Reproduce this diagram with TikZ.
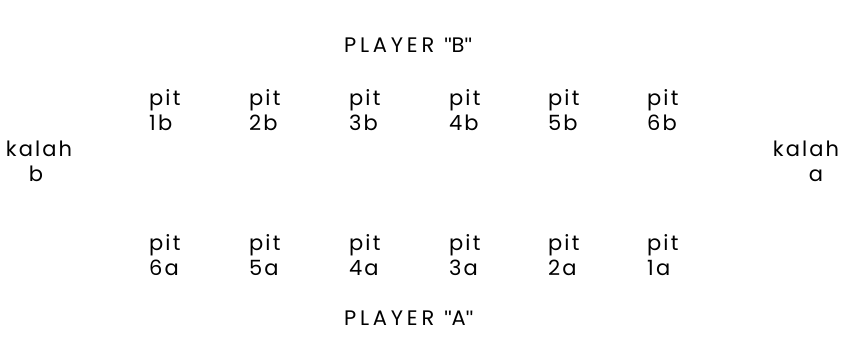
\documentclass[tikz,border=0pt]{standalone}
\usepackage{fontspec}
\setmainfont{Poppins}[LetterSpace=10]
\newfontfamily\qf{Liberation Sans}
\newfontfamily\capsf{Poppins}[LetterSpace=18]
\newcommand{\sq}{{\qf\char34}}
\begin{document}
\begin{tikzpicture}[x=1pt,y=1pt,
  lbl/.style={font=\fontsize{21}{25}\selectfont, inner sep=0pt},
  pitlbl/.style={lbl, align=left, anchor=west},
  kal/.style={lbl, align=center},
  plyr/.style={lbl, font=\capsf\fontsize{21}{25}\selectfont, anchor=west}]
\useasboundingbox (0,0) rectangle (841,-364);
\node[plyr] (pb) at (344,-45) {PLAYER\hspace{10pt}\sq B\sq};
\node[plyr] (pa) at (344,-318) {PLAYER\hspace{10pt}\sq A\sq};
\node[pitlbl] (p1b) at (149,-110) {pit\\1b};
\node[pitlbl] (p2b) at (249,-110) {pit\\2b};
\node[pitlbl] (p3b) at (349,-110) {pit\\3b};
\node[pitlbl] (p4b) at (449,-110) {pit\\4b};
\node[pitlbl] (p5b) at (548,-110) {pit\\5b};
\node[pitlbl] (p6b) at (647,-110) {pit\\6b};
\node[pitlbl] (p6a) at (149,-255) {pit\\6a};
\node[pitlbl] (p5a) at (249,-255) {pit\\5a};
\node[pitlbl] (p4a) at (349,-255) {pit\\4a};
\node[pitlbl] (p3a) at (449,-255) {pit\\3a};
\node[pitlbl] (p2a) at (548,-255) {pit\\2a};
\node[pitlbl] (p1a) at (647,-255) {pit\\1a};
\node[kal] (kb) at (39,-161) {kalah\\\hspace*{-6pt}b};
\node[kal] (ka) at (806,-161) {kalah\\\hspace*{20pt}a};
\end{tikzpicture}
\end{document}
